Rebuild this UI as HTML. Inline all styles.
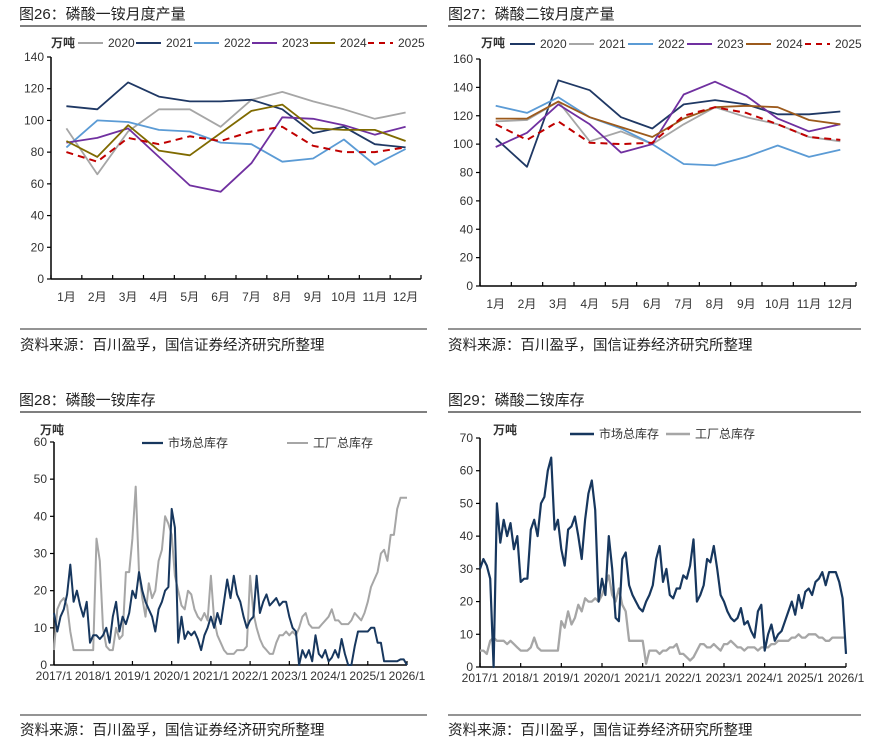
<!DOCTYPE html>
<html><head><meta charset="utf-8">
<style>
body{margin:0;background:#fff;}
svg{display:block;font-family:"Liberation Sans","Noto Sans CJK SC",sans-serif;}
.t{font-size:15px;fill:#222;}
.s{font-size:14.5px;fill:#222;}
.tk{font-size:12px;fill:#333;}
.lg{font-size:12px;fill:#333;}
</style></head>
<body>
<svg id="c" width="877" height="744" viewBox="0 0 877 744">
<rect width="877" height="744" fill="#fff"/>
<g>
<text class="t" x="19" y="19">图26：磷酸一铵月度产量</text>
<line x1="20" y1="26" x2="427" y2="26" stroke="#555" stroke-width="1.5"/>
<line x1="20" y1="329" x2="427" y2="329" stroke="#555" stroke-width="1.2"/>
<text class="s" x="20" y="350">资料来源：百川盈孚，国信证券经济研究所整理</text>
<text class="t" x="448" y="19">图27：磷酸二铵月度产量</text>
<line x1="448" y1="26" x2="861" y2="26" stroke="#555" stroke-width="1.5"/>
<line x1="448" y1="329" x2="861" y2="329" stroke="#555" stroke-width="1.2"/>
<text class="s" x="448" y="350">资料来源：百川盈孚，国信证券经济研究所整理</text>
<text class="t" x="19" y="405">图28：磷酸一铵库存</text>
<line x1="20" y1="412" x2="427" y2="412" stroke="#555" stroke-width="1.5"/>
<line x1="20" y1="715" x2="427" y2="715" stroke="#555" stroke-width="1.2"/>
<text class="s" x="20" y="735">资料来源：百川盈孚，国信证券经济研究所整理</text>
<text class="t" x="448" y="405">图29：磷酸二铵库存</text>
<line x1="448" y1="412" x2="861" y2="412" stroke="#555" stroke-width="1.5"/>
<line x1="448" y1="715" x2="861" y2="715" stroke="#555" stroke-width="1.2"/>
<text class="s" x="448" y="735">资料来源：百川盈孚，国信证券经济研究所整理</text>
</g>
</svg>
<script>
// ---- Fig 26 data ----
const months = ["1月","2月","3月","4月","5月","6月","7月","8月","9月","10月","11月","12月"];
const years = ["2020","2021","2022","2023","2024","2025"];
const map2020 = [95,66,93,107,107,96,113,118,112,107,101,105];
const map2021 = [109,107,124,115,112,112,113,107,92,96,85,83];
const map2022 = [83,100,99,94,93,86,85,74,76,88,72,82];
const map2023 = [86,89,95,77,59,55,73,102,101,97,91,96];
const map2024 = [87,77,97,81,78,92,106,110,95,94,94,87];
const map2025 = [80,74,89,85,90,87,93,96,84,80,80,83];
const mapTicks = [0,20,40,60,80,100,120,140];
// ---- Fig 27 data ----
const dap2020 = [104,84,145,138,119,111,128,131,128,121,121,123];
const dap2021 = [116,117,130,102,109,100,114,126,119,114,105,102];
const dap2022 = [127,122,133,119,111,100,86,85,91,99,91,96];
const dap2023 = [98,108,128,114,94,100,135,144,134,118,109,114];
const dap2024 = [118,118,130,119,112,105,118,126,127,126,117,114];
const dap2025 = [114,103,116,101,100,101,120,126,122,114,105,103];
const dapTicks = [0,20,40,60,80,100,120,140,160];
// ---- Fig 28 data (monthly from 2017/1) ----
const yearLabels = ["2017/1","2018/1","2019/1","2020/1","2021/1","2022/1","2023/1","2024/1","2025/1","2026/1"];
const mapMarket = [14,9,13,15,19,27,17,20,16,13,17,6, 8,8,7,8,10,6,13,17,9,13,11,14, 20,18,25,20,17,15,13,9,15,17,20,21, 42,37,6,13,7,9,8,9,7,4,8,10, 13,10,14,11,17,23,18,24,19,17,13,10, 12,13,24,14,17,19,16,17,18,16,17,17, 13,10,9,0,4,2,4,1,8,3,2,4, 1,2,4,2,7,3,0,0,5,9,9,9, 9,10,10,6,6,1,1,1,1,1,1.5,1.5, 0];
const mapFactory = [4,15,17,18,16,9,4,4,4,4,4,4, 4,34,28,10,5,4,4,10,7,8,25,25, 34,48,25,18,13,22,18,20,28,31,40,38, 35,24,20,16,15,20,19,15,13,12,14,12, 24,12,8,6,4,3,3,3,4,4,4,5, 24,14,10,7,5,4,3,3,6,8,8,9, 8,9,8,10,13,14,11,10,10,10,11,12, 13,15,12,12,11,11,11,12,14,13,12,14, 17,21,23,25,30,31,28,35,35,42,45,45, 45];
const invTicks28 = [0,10,20,30,40,50,60];
// ---- Fig 29 data ----
const dapMarket = [30,33,31,27,0,50,38,45,40,44,36,40, 26,27,27,42,45,40,50,52,60,64,42,45, 36,31,42,43,46,40,33,45,53,57,48,20, 27,22,40,30,15,14,33,35,25,22,20,18, 17,20,22,25,33,37,26,30,22,21,24,24, 28,27,31,39,20,22,25,33,32,37,30,22, 20,17,15,14,15,18,13,14,11,9,17,19, 5,10,13,8,10,11,14,17,20,16,22,18, 23,24,22,26,27,29,25,29,29,29,26,21, 4];
const dapFactory = [5,5,4,8,9,8,8,8,7,8,7,6, 5,5,5,6,9,6,5,5,5,5,5,5, 14,12,17,13,15,19,17,21,20,20,21,20, 22,25,28,22,20,24,19,17,8,8,8,8, 8,1,5,5,5,4,5,5,6,6,7,4, 4,3,2,3,5,7,7,6,6,7,6,5, 7,7,8,7,6,6,5,6,6,6,5,6, 6,6,7,7,8,8,8,8,9,9,10,9, 9,10,10,10,9,9,8,8,9,9,9,9, 9];
const invTicks29 = [0,10,20,30,40,50,60,70];

const NS="http://www.w3.org/2000/svg";
const svg=document.getElementById('c');
function mk(tag,attrs,parent){const e=document.createElementNS(NS,tag);for(const k in attrs)e.setAttribute(k,attrs[k]);(parent||svg).appendChild(e);return e;}

function axes(g,x0,x1,y0,y1,ticks,ymax,xlabels,catMode){
  const yS=v=>y0-(v/ymax)*(y0-y1);
  const ax=mk('line',{x1:x0,y1:y1,x2:x0,y2:y0,stroke:'#000','stroke-width':1.5},g);
  
  
  const bx=mk('line',{x1:x0,y1:y0,x2:x1,y2:y0,stroke:'#000','stroke-width':1.5},g);
  
  
  ticks.forEach(v=>{
    const y=yS(v);
    mk('line',{x1:x0-4,y1:y,x2:x0,y2:y,stroke:'#000','stroke-width':1.2},g);
    const t=mk('text',{x:x0-7,y:y+4,'text-anchor':'end',class:'tk'},g);
    t.textContent=v;
    
    
  });
  const n=xlabels.length;
  if(catMode){
    const w=(x1-x0)/n;
    for(let i=0;i<=n;i++) mk('line',{x1:x0+i*w,y1:y0,x2:x0+i*w,y2:y0-4,stroke:'#000','stroke-width':1.2},g);
    xlabels.forEach((l,i)=>{
      const t=mk('text',{x:x0+(i+0.5)*w,y:y0+22,'text-anchor':'middle',class:'tk'},g);
      t.textContent=l;
      
      
    });
  } else {
    const w=(x1-x0)/(n-1);
    xlabels.forEach((l,i)=>{
      const x=x0+i*w;
      mk('line',{x1:x,y1:y0,x2:x,y2:y0-4,stroke:'#000','stroke-width':1.2},g);
      const t=mk('text',{x:x,y:y0+15,'text-anchor':'middle',class:'tk','font-size':'11'},g);
      t.textContent=l;
      
      
    });
  }
  return yS;
}
function series(g,vals,xF,yS,color,dash,w,name){
  const pts=vals.map((v,i)=>xF(i).toFixed(1)+','+yS(v).toFixed(1)).join(' ');
  const p=mk('polyline',{points:pts,fill:'none',stroke:color,'stroke-width':w,'stroke-linejoin':'round','stroke-dasharray':dash||'none'},g);
  
  
}
function legend(g,x,y,color,dash,w,label,len,name,fs){
  mk('line',{x1:x,y1:y,x2:x+len,y2:y,stroke:color,'stroke-width':w,'stroke-dasharray':dash||'none'},g);
  const t=mk('text',{x:x+len+5,y:y+4,class:'lg'},g);
  if(fs) t.setAttribute('font-size',fs);
  t.textContent=label;
  
  
}

// Fig 26
(function(){
  const g=mk('g',{});
  
  
  const x0=51,x1=421,y0=279,y1=57;
  const yS=axes(g,x0,x1,y0,y1,mapTicks,140,months,true);
  const w=(x1-x0)/12, xF=i=>x0+(i+0.5)*w;
  const cols=['#a6a6a6','#1f3864','#5b9bd5','#7030a0','#7f6a00','#c00000'];
  const data=[map2020,map2021,map2022,map2023,map2024,map2025];
  data.forEach((d,k)=>series(g,d,xF,yS,cols[k],k==5?'7,5':null,k==5?2:1.8,'line-'+years[k]));
  const u=mk('text',{x:51,y:47,class:'lg','font-weight':'bold'},g); u.textContent='万吨';
  
  
  years.forEach((yr,k)=>legend(g,78+58*k,43,cols[k],k==5?'6,5':null,2,yr,25,'legend-'+yr));
})();
// Fig 27
(function(){
  const g=mk('g',{});
  
  
  const x0=480,x1=856,y0=286,y1=59;
  const yS=axes(g,x0,x1,y0,y1,dapTicks,160,months,true);
  const w=(x1-x0)/12, xF=i=>x0+(i+0.5)*w;
  const cols=['#1f3864','#a6a6a6','#5b9bd5','#7030a0','#9c5a1c','#c00000'];
  const data=[dap2020,dap2021,dap2022,dap2023,dap2024,dap2025];
  data.forEach((d,k)=>series(g,d,xF,yS,cols[k],k==5?'7,5':null,k==5?2:1.8,'line-'+years[k]));
  const u=mk('text',{x:481,y:47,class:'lg','font-weight':'bold'},g); u.textContent='万吨';
  
  
  years.forEach((yr,k)=>legend(g,510+59*k,44,cols[k],k==5?'6,5':null,2,yr,25,'legend-'+yr));
})();
// Fig 28
(function(){
  const g=mk('g',{});
  
  
  const x0=54,x1=407,y0=665,y1=442;
  const yS=axes(g,x0,x1,y0,y1,invTicks28,60,yearLabels,false);
  const yw=(x1-x0)/9, xF=i=>x0+i*yw/12;
  series(g,mapFactory,xF,yS,'#a6a6a6',null,2,'line-factory-inventory');
  series(g,mapMarket,xF,yS,'#17375e',null,2,'line-market-inventory');
  const u=mk('text',{x:40,y:434,class:'lg','font-weight':'bold','font-size':'11'},g); u.textContent='万吨';
  
  
  legend(g,142,443,'#17375e',null,2.2,'市场总库存',21,'legend-market');
  legend(g,287,443,'#a6a6a6',null,2,'工厂总库存',21,'legend-factory');
})();
// Fig 29
(function(){
  const g=mk('g',{});
  
  
  const x0=480,x1=846,y0=667,y1=438;
  const yS=axes(g,x0,x1,y0,y1,invTicks29,70,yearLabels,false);
  const yw=(x1-x0)/9, xF=i=>x0+i*yw/12;
  series(g,dapFactory,xF,yS,'#a6a6a6',null,2.3,'line-factory-inventory');
  series(g,dapMarket,xF,yS,'#17375e',null,2.2,'line-market-inventory');
  const u=mk('text',{x:493,y:434,class:'lg','font-weight':'bold','font-size':'11'},g); u.textContent='万吨';
  
  
  legend(g,570,434,'#17375e',null,2.5,'市场总库存',24,'legend-market','13.5');
  legend(g,666,434,'#a6a6a6',null,2.5,'工厂总库存',24,'legend-factory','13.5');
})();
</script>
</body></html>
